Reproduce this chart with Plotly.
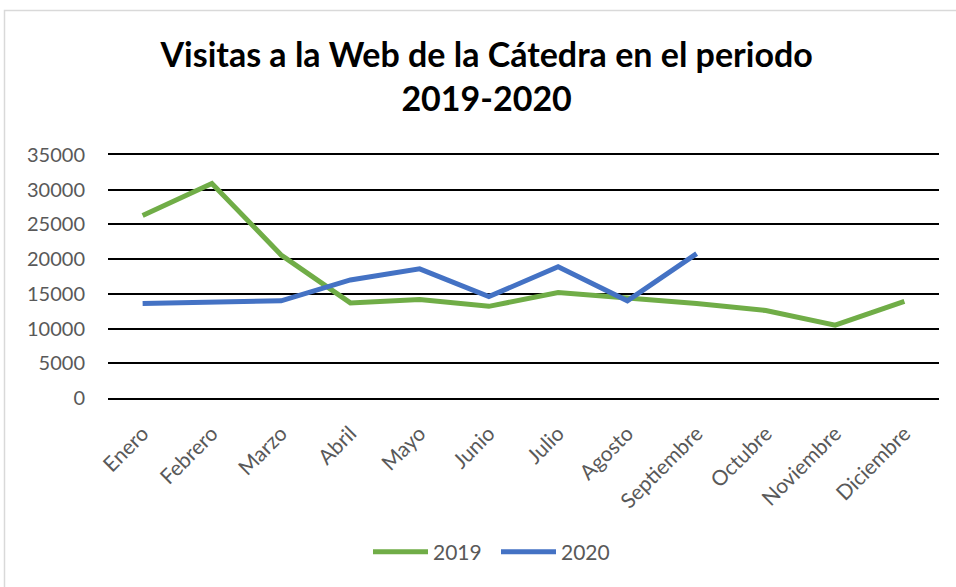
import plotly.graph_objects as go

meses = ["Enero", "Febrero", "Marzo", "Abril", "Mayo", "Junio", "Julio",
         "Agosto", "Septiembre", "Octubre", "Noviembre", "Diciembre"]
visitas_2019 = [26300, 30900, 20600, 13700, 14200, 13200, 15200, 14400, 13600, 12600, 10500, 13900]
visitas_2020 = [13600, 13800, 14000, 17000, 18600, 14600, 18900, 14000, 20800]
y_ticks = [0, 5000, 10000, 15000, 20000, 25000, 30000, 35000]

fig = go.Figure()
fig.add_trace(go.Scatter(x=meses, y=visitas_2019, mode="lines", name="2019",
                         line=dict(color="#70AD47", width=5)))
fig.add_trace(go.Scatter(x=meses[:len(visitas_2020)], y=visitas_2020, mode="lines", name="2020",
                         line=dict(color="#4472C4", width=5)))

W, H = 956, 587
L, R, T, B = 108, 939, 155, 398
pw, ph = R - L, B - T

def px(x):
    return (x - L) / pw

def py(y):
    return (B - y) / ph

fig.update_layout(
    width=W, height=H,
    margin=dict(l=L, r=W - R, t=T, b=H - B),
    paper_bgcolor="white", plot_bgcolor="white",
    font=dict(family="Lato", color="#595959"),
    title=dict(text="<b>Visitas a la Web de la Cátedra en el periodo<br>2019-2020</b>",
               x=0.509, xref="container", xanchor="center",
               y=1 - 67 / H, yref="container", yanchor="top",
               font=dict(family="Lato", size=34, color="black")),
    showlegend=True,
    legend=dict(orientation="h", x=px(496), xanchor="center", y=py(552), yanchor="middle",
                font=dict(size=21, color="#595959"), itemwidth=55, entrywidth=58,
                bgcolor="rgba(0,0,0,0)"),
    xaxis=dict(type="category", categoryorder="array", categoryarray=meses,
               range=[-0.5, len(meses) - 0.5], tickangle=-45, showgrid=False,
               showline=True, mirror=True, linecolor="black", linewidth=2,
               zeroline=False, ticks="outside", ticklen=13,
               tickcolor="rgba(0,0,0,0)", tickfont=dict(size=21, color="#595959")),
    yaxis=dict(range=[0, 35000], tickvals=y_ticks, ticktext=[str(v) for v in y_ticks],
               showgrid=True, gridcolor="black", gridwidth=2, zeroline=False,
               showline=False, ticklabelstandoff=22,
               tickfont=dict(size=20, color="#595959"), fixedrange=True),
    shapes=[dict(type="rect", xref="paper", yref="paper",
                 x0=px(4.5), x1=px(970), y0=py(600), y1=py(10.5),
                 line=dict(color="#D9D9D9", width=1.5), fillcolor="rgba(0,0,0,0)",
                 layer="below")],
)

fig.write_html("out.html", config={"displayModeBar": False},
               post_script="document.body.style.margin='0';")
